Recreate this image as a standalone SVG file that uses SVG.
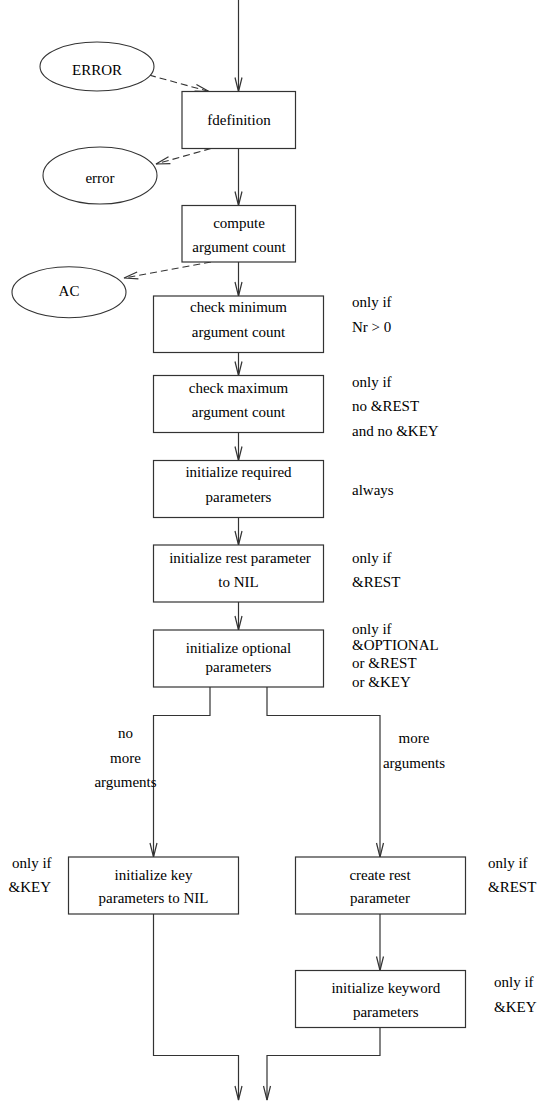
<svg xmlns="http://www.w3.org/2000/svg" width="538" height="1101" viewBox="0 0 538 1101">
  <style>
    .box { fill: #ffffff; stroke: #333333; stroke-width: 1.2; }
    .ell { fill: #ffffff; stroke: #333333; stroke-width: 1.1; }
    .t { font-family: "Liberation Serif", "Times New Roman", serif; font-size: 15px; fill: #000000; }
    .c { text-anchor: middle; }
    .flow { fill: none; stroke: #333333; stroke-width: 1.2; marker-end: url(#head); }
    .dash { fill: none; stroke: #333333; stroke-width: 1.1; stroke-dasharray: 7 4; marker-end: url(#head); }
  </style>
  <defs>
    <!-- open V arrowhead shared by solid and dashed connectors -->
    <marker id="head" markerUnits="userSpaceOnUse" markerWidth="20" markerHeight="12" refX="15" refY="4" orient="auto" overflow="visible">
      <path d="M1,0.5 L15,4 L1,7.5" fill="none" stroke="#333333" stroke-width="1.2"/>
    </marker>
  </defs>

  <rect width="538" height="1101" fill="#ffffff"/>

  <!-- connectors -->
  <g id="connectors">
    <path class="flow" d="M238.5,0 V91.5"/>
    <path class="flow" d="M238.5,148.5 V205.5"/>
    <path class="flow" d="M238.5,262 V296"/>
    <path class="flow" d="M238.5,352.5 V375.5"/>
    <path class="flow" d="M238.5,432.5 V460.5"/>
    <path class="flow" d="M238.5,517.5 V545"/>
    <path class="flow" d="M238.5,602 V630"/>
    <path class="flow" d="M210,687 V715.5 H153.5 V857"/>
    <path class="flow" d="M267,687 V715.5 H380 V857"/>
    <path class="flow" d="M380,914 V970.5"/>
    <path class="flow" d="M153.5,914 V1055.5 H238.5 V1100"/>
    <path class="flow" d="M380,1027.5 V1055.5 H267 V1100"/>
    <path class="dash" d="M149,75 L209,91.5"/>
    <path class="dash" d="M211,148.5 L156,164"/>
    <path class="dash" d="M211,262 L124,278"/>
  </g>

  <!-- side ellipses -->
  <g id="ERROR">
    <ellipse class="ell" cx="97" cy="66.5" rx="57" ry="24.5"/>
    <text class="t c" x="97" y="75">ERROR</text>
  </g>
  <g id="error">
    <ellipse class="ell" cx="100" cy="175.5" rx="57" ry="28.5"/>
    <text class="t c" x="100" y="183">error</text>
  </g>
  <g id="AC">
    <ellipse class="ell" cx="69" cy="292.2" rx="57" ry="25.5"/>
    <text class="t c" x="69" y="295.5">AC</text>
  </g>

  <!-- main chain -->
  <g id="fdefinition">
    <rect class="box" x="182" y="91.5" width="113.5" height="57"/>
    <text class="t c" x="239" y="125">fdefinition</text>
  </g>
  <g id="compute">
    <rect class="box" x="182" y="205.5" width="113.5" height="56.5"/>
    <text class="t c" x="239" y="227.5">compute</text>
    <text class="t c" x="239" y="252.3">argument count</text>
  </g>
  <g id="check-min">
    <rect class="box" x="153.5" y="296" width="170" height="56.5"/>
    <text class="t c" x="238.5" y="312.3">check minimum</text>
    <text class="t c" x="238.5" y="337.3">argument count</text>
    <text class="t" x="352" y="306.7">only if</text>
    <text class="t" x="352" y="331.7">Nr &gt; 0</text>
  </g>
  <g id="check-max">
    <rect class="box" x="153.5" y="375.5" width="170" height="57"/>
    <text class="t c" x="238.5" y="392.7">check maximum</text>
    <text class="t c" x="238.5" y="416.7">argument count</text>
    <text class="t" x="352" y="386.7">only if</text>
    <text class="t" x="352" y="410.7">no &amp;REST</text>
    <text class="t" x="352" y="435.7">and no &amp;KEY</text>
  </g>
  <g id="init-required">
    <rect class="box" x="153.5" y="460.5" width="170" height="57"/>
    <text class="t c" x="238.5" y="477.3">initialize required</text>
    <text class="t c" x="238.5" y="501.7">parameters</text>
    <text class="t" x="352" y="495">always</text>
  </g>
  <g id="init-rest">
    <rect class="box" x="153.5" y="545" width="170" height="57"/>
    <text class="t c" x="240" y="563.3">initialize rest parameter</text>
    <text class="t c" x="238.5" y="586.7">to NIL</text>
    <text class="t" x="352" y="562.7">only if</text>
    <text class="t" x="352" y="586.7">&amp;REST</text>
  </g>
  <g id="init-optional">
    <rect class="box" x="153.5" y="630" width="170" height="57"/>
    <text class="t c" x="238.5" y="652.7">initialize optional</text>
    <text class="t c" x="238.5" y="671.7">parameters</text>
    <text class="t" x="352" y="634.3">only if</text>
    <text class="t" x="352" y="650">&amp;OPTIONAL</text>
    <text class="t" x="352" y="667.7">or &amp;REST</text>
    <text class="t" x="352" y="686.7">or &amp;KEY</text>
  </g>

  <!-- branch labels -->
  <g id="label-no-more">
    <text class="t c" x="125.5" y="738.3">no</text>
    <text class="t c" x="125.5" y="762.7">more</text>
    <text class="t c" x="125.5" y="786.7">arguments</text>
  </g>
  <g id="label-more">
    <text class="t c" x="414" y="743.3">more</text>
    <text class="t c" x="414" y="768.3">arguments</text>
  </g>

  <!-- branch nodes -->
  <g id="init-key-nil">
    <rect class="box" x="68.5" y="857" width="170" height="57"/>
    <text class="t c" x="153.5" y="880">initialize key</text>
    <text class="t c" x="153.5" y="902.7">parameters to NIL</text>
    <text class="t" x="12" y="868.3">only if</text>
    <text class="t" x="8.5" y="892.3">&amp;KEY</text>
  </g>
  <g id="create-rest">
    <rect class="box" x="295.5" y="857" width="170" height="57"/>
    <text class="t c" x="380" y="880">create rest</text>
    <text class="t c" x="380" y="903.3">parameter</text>
    <text class="t" x="488" y="868.3">only if</text>
    <text class="t" x="488" y="892.3">&amp;REST</text>
  </g>
  <g id="init-keyword">
    <rect class="box" x="295.5" y="970.5" width="170" height="57"/>
    <text class="t c" x="385.8" y="992.7">initialize keyword</text>
    <text class="t c" x="385.8" y="1017.3">parameters</text>
    <text class="t" x="494" y="987.3">only if</text>
    <text class="t" x="494" y="1011.7">&amp;KEY</text>
  </g>
</svg>
